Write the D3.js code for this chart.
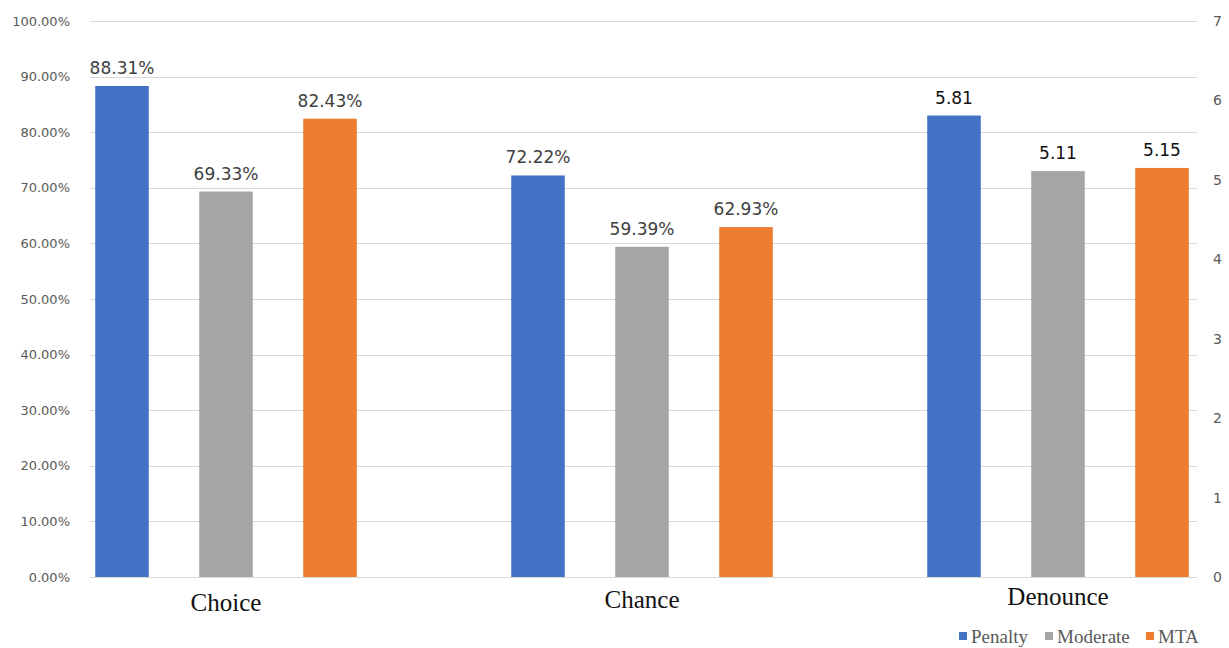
<!DOCTYPE html>
<html><head><meta charset="utf-8">
<script src="https://cdn.jsdelivr.net/npm/d3@7"></script>
<style>body{margin:0;background:#fff}svg{display:block}</style>
</head><body><svg id="c" width="1229" height="648"></svg>
<script>
const categories = ["Choice", "Chance", "Denounce"];
const series = ["Penalty", "Moderate", "MTA"];
const penalty = [88.31, 72.22, 5.81];
const moderate = [69.33, 59.39, 5.11];
const mta = [82.43, 62.93, 5.15];
const labelPenalty = ["88.31%", "72.22%", "5.81"];
const labelModerate = ["69.33%", "59.39%", "5.11"];
const labelMTA = ["82.43%", "62.93%", "5.15"];
const axisOf = ["left", "left", "right"];
const leftTicks = [0,10,20,30,40,50,60,70,80,90,100];
const rightTicks = [0,1,2,3,4,5,6,7];
const colors = ["#4472c4", "#a5a5a5", "#ed7d31"];

(function() {
const svg = d3.select("#c");
const plotTop = 21, plotBottom = 577, plotL = 90, plotR = 1197;
const yL = d3.scaleLinear().domain([0,100]).range([plotBottom, plotTop]);
const yR = d3.scaleLinear().domain([0,7]).range([plotBottom, plotTop]);
const x0 = d3.scaleBand().domain(categories).range([18, 1266]).padding(0);
const x1 = d3.scaleBand().domain(series).range([-156, 156]).paddingInner(0.485).paddingOuter(0.2425);

svg.append("g").selectAll("line").data(leftTicks).join("line")
  .attr("x1", plotL).attr("x2", plotR)
  .attr("y1", d => Math.round(yL(d))+0.5).attr("y2", d => Math.round(yL(d))+0.5)
  .attr("stroke", "#d9d9d9").attr("stroke-width", 1);

const gL = svg.append("g").attr("transform", `translate(${plotL},0)`)
  .call(d3.axisLeft(yL).tickValues(leftTicks).tickSize(0).tickPadding(20).tickFormat(d => d.toFixed(2) + "%"));
gL.select(".domain").remove();
gL.selectAll("text").attr("font-family", "DejaVu Sans").attr("font-size", 13).attr("fill", "#595959");

const gR = svg.append("g").attr("transform", `translate(${plotR},0)`)
  .call(d3.axisRight(yR).tickValues(rightTicks).tickSize(0).tickPadding(16).tickFormat(d3.format("d")));
gR.select(".domain").remove();
gR.selectAll("text").attr("font-family", "DejaVu Sans").attr("font-size", 14).attr("fill", "#595959");

const rows = categories.map((c, i) => ({
  cat: c, i, axis: axisOf[i],
  vals: [penalty[i], moderate[i], mta[i]],
  labels: [labelPenalty[i], labelModerate[i], labelMTA[i]]
}));

const groups = svg.append("g").selectAll("g").data(rows).join("g")
  .attr("transform", d => `translate(${x0(d.cat) + x0.bandwidth()/2},0)`);

groups.each(function(r) {
  const y = r.axis === "left" ? yL : yR;
  const items = series.map((s, k) => ({s, k, v: r.vals[k], lab: r.labels[k]}));
  const g = d3.select(this);
  g.selectAll("rect").data(items).join("rect")
    .attr("x", d => x1(d.s)).attr("width", x1.bandwidth())
    .attr("y", d => y(d.v)).attr("height", d => plotBottom - y(d.v))
    .attr("fill", d => colors[d.k]);
  g.selectAll("text.lab").data(items).join("text").attr("class", "lab")
    .attr("x", d => x1(d.s) + x1.bandwidth()/2)
    .attr("y", d => y(d.v) - 12)
    .attr("text-anchor", "middle")
    .attr("font-family", "DejaVu Sans").attr("font-size", 17)
    .attr("fill", r.axis === "right" ? "#111" : "#404040")
    .text(d => d.lab);
});

svg.append("g").selectAll("text").data(categories).join("text")
  .attr("x", d => x0(d) + x0.bandwidth()/2)
  .attr("y", (d, i) => 611 - 3*i)
  .attr("text-anchor", "middle")
  .attr("font-family", "Liberation Serif").attr("font-size", 25).attr("fill", "#111")
  .text(d => d);

const legX = [959, 1045, 1146];
const leg = svg.append("g").selectAll("g").data(series).join("g")
  .attr("transform", (d, i) => `translate(${legX[i]},636)`);
leg.append("rect").attr("x", 0).attr("y", -4).attr("width", 8).attr("height", 8).attr("fill", (d, i) => colors[i]);
leg.append("text").attr("x", 12).attr("y", 0).attr("dy", "0.35em")
  .attr("font-family", "Liberation Serif").attr("font-size", 19).attr("fill", "#595959").text(d => d);
})();
</script></body></html>
